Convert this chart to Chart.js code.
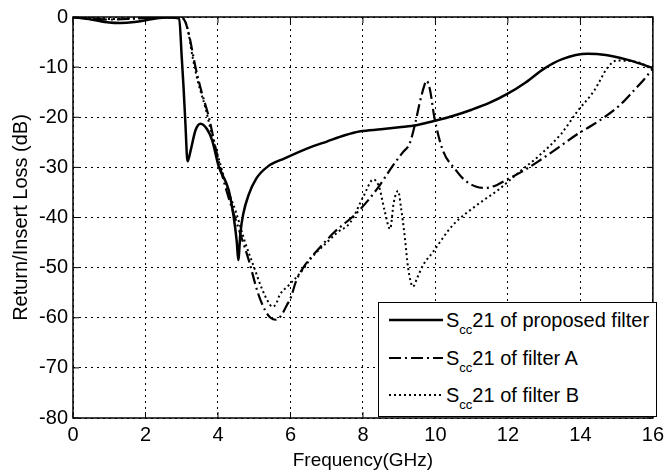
<!DOCTYPE html>
<html>
<head>
<meta charset="utf-8">
<script src="https://cdn.jsdelivr.net/npm/chart.js@4"></script>
<style>
    body { margin: 0; background: #fff; }
    .wrap { position: relative; width: 669px; height: 474px; }
    .legend {
        position: absolute; left: 378px; top: 302px; width: 277px; height: 113px;
        border: 1.5px solid #000; background: #fff;
        font-family: 'Liberation Sans', Arial, sans-serif; color: #000;
    }
    .legend-row { position: absolute; left: 10px; height: 24px; display: flex; align-items: center; }
    .legend-row svg { margin-right: 3px; }
    .legend-text { font-size: 20px; line-height: 24px; white-space: nowrap; }
    .legend-text sub { font-size: 13px; vertical-align: -7px; line-height: 0; }
</style>
</head>
<body>
<div class="wrap">
    <canvas id="chart" width="669" height="474"></canvas>
    <div class="legend">
        <div class="legend-row" style="top: 5px;">
            <svg width="54" height="6"><line x1="0" y1="3" x2="54" y2="3" stroke="#000" stroke-width="2.5"/></svg>
            <span class="legend-text">S<sub>cc</sub>21 of proposed filter</span>
        </div>
        <div class="legend-row" style="top: 43px;">
            <svg width="54" height="6"><line x1="0" y1="3" x2="54" y2="3" stroke="#000" stroke-width="2.2" stroke-dasharray="12 4 2 4"/></svg>
            <span class="legend-text">S<sub>cc</sub>21 of filter A</span>
        </div>
        <div class="legend-row" style="top: 80px;">
            <svg width="54" height="6"><line x1="0" y1="3" x2="54" y2="3" stroke="#000" stroke-width="2" stroke-dasharray="2 3"/></svg>
            <span class="legend-text">S<sub>cc</sub>21 of filter B</span>
        </div>
    </div>
</div>
<script>
// values (GHz / dB)
const freqProposed = [0, 0.5, 1.0, 1.3, 1.7, 2.2, 2.6, 2.93, 3.0, 3.05, 3.1, 3.16, 3.25, 3.38, 3.52, 3.7, 3.84, 4.02, 4.29, 4.43, 4.52, 4.56, 4.62, 4.7, 4.84, 5.06, 5.38, 5.84, 6.47, 7.02, 7.5, 7.93, 8.5, 9.0, 9.47, 9.93, 10.5, 11.0, 11.5, 11.97, 12.5, 13.0, 13.5, 14.2, 14.7, 15.28, 15.6, 16];
const lossProposed = [0, -0.5, -1.1, -1.2, -1.0, -0.4, -0.1, -0.3, -8, -14, -21, -28.8, -26.5, -22.6, -21.3, -22.4, -24.6, -29.8, -34.4, -39.7, -44.9, -48.5, -43, -39.2, -35.6, -32.2, -29.8, -28.2, -26.2, -24.8, -23.6, -22.8, -22.4, -22.0, -21.6, -20.8, -19.7, -18.5, -17.1, -15.4, -13, -10.3, -8.4, -7.35, -7.6, -8.5, -9.2, -10.2];

const freqFilterA = [0, 0.5, 1.0, 1.5, 2.0, 2.5, 3.0, 3.1, 3.2, 3.38, 3.55, 3.75, 3.9, 4.06, 4.25, 4.47, 4.65, 4.85, 5.1, 5.3, 5.45, 5.6, 5.75, 5.9, 6.02, 6.15, 6.4, 6.75, 7.2, 7.84, 8.38, 8.84, 9.1, 9.29, 9.45, 9.56, 9.68, 9.75, 9.85, 9.97, 10.2, 10.56, 10.8, 11.11, 11.38, 11.7, 11.93, 12.4, 12.84, 13.4, 13.93, 14.3, 14.66, 15.1, 15.47, 15.75, 16];
const lossFilterA = [-0.1, -0.3, -0.5, -0.4, -0.2, -0.1, -0.1, -1.0, -3.5, -10, -15, -20, -25, -30, -35, -40, -44, -48.5, -55, -58.5, -60, -60.4, -59.5, -57.5, -55.8, -52.8, -49.5, -46.5, -43, -39, -34.4, -29.5, -27, -25.2, -21, -17.3, -14, -12.7, -14.5, -20, -26.5, -30.5, -32.5, -33.8, -34.1, -33.5, -32.6, -30.8, -28.8, -26, -23.3, -21.7, -20, -17.5, -14.7, -12.5, -10.3];

const freqFilterB = [0, 0.5, 1.0, 1.5, 2.0, 2.5, 3.0, 3.15, 3.3, 3.45, 3.65, 3.85, 4.05, 4.25, 4.5, 4.75, 5.0, 5.2, 5.4, 5.5, 5.6, 5.7, 5.97, 6.3, 6.56, 7.0, 7.29, 7.65, 8.02, 8.29, 8.45, 8.6, 8.75, 8.85, 8.97, 9.05, 9.15, 9.25, 9.38, 9.5, 9.66, 9.93, 10.47, 11.11, 11.75, 12.3, 12.84, 13.47, 13.93, 14.38, 14.75, 15.0, 15.4, 15.7, 16];
const lossFilterB = [-0.1, -0.2, -0.4, -0.3, -0.2, -0.1, -0.2, -2, -8, -13, -18, -24, -29, -34, -39, -45, -50, -54, -57, -57.8, -57.3, -55.5, -53.4, -50.8, -48.2, -45, -43, -41, -35.7, -32.4, -34, -38.7, -42.3, -37, -34.7, -38, -43.6, -50.2, -53.8, -52, -49.5, -46.9, -41.6, -37.7, -34.4, -31, -27.8, -23.3, -18.7, -14.7, -10.1, -8.7, -8.8, -9.3, -10.5];

const xTicks = [0, 2, 4, 6, 8, 10, 12, 14, 16];
const yTicks = [0, -10, -20, -30, -40, -50, -60, -70, -80];

function toPoints(freq, loss) {
    return freq.map((f, i) => ({ x: f, y: loss[i] }));
}

// black frame round the plot plus little inward ticks, like the matlab axes
const frameBox = {
    id: 'frameBox',
    afterDatasetsDraw(chart) {
        const { ctx, chartArea: a, scales } = chart;
        ctx.save();
        ctx.strokeStyle = '#000';
        ctx.lineWidth = 1.5;
        ctx.setLineDash([]);
        ctx.strokeRect(a.left, a.top, a.right - a.left, a.bottom - a.top);
        ctx.lineWidth = 1;
        ctx.beginPath();
        xTicks.forEach(v => {
            const px = scales.x.getPixelForValue(v);
            ctx.moveTo(px, a.bottom); ctx.lineTo(px, a.bottom - 6);
            ctx.moveTo(px, a.top); ctx.lineTo(px, a.top + 6);
        });
        yTicks.forEach(v => {
            const py = scales.y.getPixelForValue(v);
            ctx.moveTo(a.left, py); ctx.lineTo(a.left + 6, py);
            ctx.moveTo(a.right, py); ctx.lineTo(a.right - 6, py);
        });
        ctx.stroke();
        ctx.restore();
    }
};

Chart.defaults.font.family = "'Liberation Sans', Arial, sans-serif";
Chart.defaults.color = '#000';

new Chart(document.getElementById('chart'), {
    type: 'line',
    data: {
        datasets: [
            {
                label: 'Scc21 of proposed filter',
                data: toPoints(freqProposed, lossProposed),
                borderColor: '#000',
                borderWidth: 2.5
            },
            {
                label: 'Scc21 of filter A',
                data: toPoints(freqFilterA, lossFilterA),
                borderColor: '#000',
                borderWidth: 2.2,
                borderDash: [12, 4, 2, 4]
            },
            {
                label: 'Scc21 of filter B',
                data: toPoints(freqFilterB, lossFilterB),
                borderColor: '#000',
                borderWidth: 2,
                borderDash: [2, 3]
            }
        ]
    },
    options: {
        responsive: false,
        animation: false,
        devicePixelRatio: 1,
        layout: { padding: { top: 12, right: 11, left: 0, bottom: 0 } },
        elements: {
            point: { radius: 0 },
            line: { cubicInterpolationMode: 'monotone', fill: false }
        },
        plugins: {
            legend: { display: false },
            tooltip: { enabled: false }
        },
        scales: {
            x: {
                type: 'linear',
                min: 0,
                max: 16,
                afterFit: (scale) => { scale.height = 56; },
                afterBuildTicks: (scale) => { scale.ticks = xTicks.map(v => ({ value: v })); },
                ticks: { font: { size: 20 }, padding: 5, color: '#000' },
                grid: { color: '#000', lineWidth: 1, drawTicks: false },
                border: { display: false, dash: [2, 4] },
                title: {
                    display: true,
                    text: 'Frequency(GHz)',
                    font: { size: 19 },
                    color: '#000',
                    padding: { top: 0, bottom: 2 }
                }
            },
            y: {
                type: 'linear',
                min: -80,
                max: 0,
                afterFit: (scale) => { scale.width = 73; },
                afterBuildTicks: (scale) => { scale.ticks = yTicks.map(v => ({ value: v })); },
                ticks: { font: { size: 20 }, padding: 5, color: '#000' },
                grid: { color: '#000', lineWidth: 1, drawTicks: false },
                border: { display: false, dash: [2, 4] },
                title: {
                    display: true,
                    text: 'Return/Insert Loss (dB)',
                    font: { size: 20 },
                    color: '#000',
                    padding: { top: 9, bottom: 0 }
                }
            }
        }
    },
    plugins: [frameBox]
});
</script>
</body>
</html>
